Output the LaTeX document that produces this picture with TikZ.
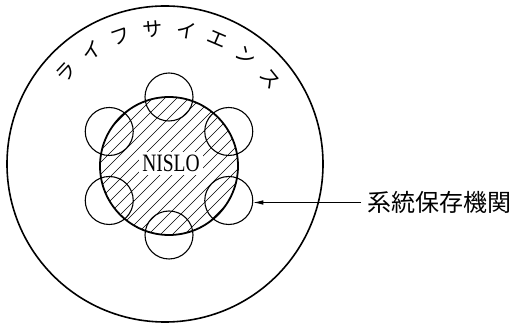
\documentclass[tikz,border=0pt]{standalone}
\usepackage{fontspec}
\setmainfont{Liberation Serif}
\newfontfamily\jp{Noto Sans CJK JP}
\usetikzlibrary{arrows.meta}
\begin{document}
\begin{tikzpicture}[x=1pt, y=1pt,
	kreis/.style={circle, draw, line width=1.1pt, minimum size=48pt, inner sep=0pt}]
	
	\useasboundingbox (0,0) rectangle (521,323);
	
	% Aeusserer Kreis (Life Science)
	\draw[line width=1.6pt] (165,159) circle (158);
	
	% Schraffur im Kern
	\begin{scope}
		\clip (169,157) circle (69);
		\foreach \c in {-156,-144,...,156}
		\draw[line width=0.5pt] ([shift={(\c,0)}]89,77) -- ++(160,160);
	\end{scope}
	
	% Kernkreis
	\draw[line width=1.8pt] (169,157) circle (69);
	
	% Sechs kleine Kreise am Rand des Kerns
	\foreach \a [count=\i] in {90,30,-30,-90,-150,150}
	\node[kreis] (k\i) at ([shift={(\a:69)}]169,157) {};
	
	% Beschriftung im Kern
	\node[fill=white, inner xsep=4pt, inner ysep=3pt, font=\fontsize{25}{25}\selectfont, xscale=0.78] (nislo) at (171,159.5) {NISLO};
	
	% Katakana entlang des Aussenkreises
	\foreach \ch [count=\i from 0, evaluate=\i as \a using 137-14*\i] in {ラ,イ,フ,サ,イ,エ,ン,ス}
	\node[font=\jp\fontsize{20}{20}\selectfont, rotate=\a-90] (ls\i) at ([shift={(\a:135)}]165,159) {\ch};
	
	% Pfeil mit Bezeichnung rechts
	\node[anchor=west, inner xsep=6pt, font=\jp\fontsize{24}{24}\selectfont] (organ) at (361,120.5) {系統保存機関};
	\draw[line width=0.7pt, -{Latex[length=10pt, width=4.5pt]}] (organ.west) -- (organ.west -| k3.east);
	
\end{tikzpicture}
\end{document}
